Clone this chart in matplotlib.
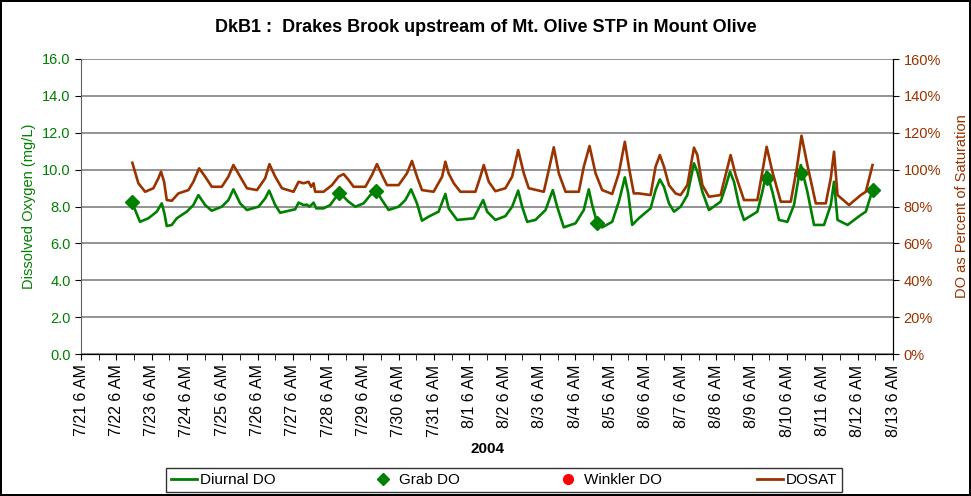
import matplotlib
matplotlib.use("Agg")
import matplotlib.pyplot as plt
import matplotlib.dates as mdates
from matplotlib.ticker import FuncFormatter, MultipleLocator
from matplotlib.lines import Line2D
import pandas as pd

plt.rcParams['font.family'] = ['Liberation Sans', 'DejaVu Sans']

title = "DkB1 :  Drakes Brook upstream of Mt. Olive STP in Mount Olive"
start = "2004-07-21 06:00"
end = "2004-08-13 06:00"

# Diurnal DO: hours after 7/21 6 AM, value mg/L
do_hours = [34.5, 40.1, 45.8, 51.5, 54.9, 56.7, 58.3, 61.7, 65.1, 71.9,
            76.4, 79.8, 84.4, 88.9, 95.7, 100.2, 103.6, 108.2, 112.8, 120.7,
            125.2, 127.9, 132.0, 135.4, 145.6, 147.9, 151.3, 153.6, 155.4, 158.1,
            159.9, 164.9, 169.4, 175.1, 178.5, 181.9, 186.5, 192.1, 196.7, 200.7,
            204.6, 209.1, 215.9, 220.5, 224.4, 228.4, 231.8, 236.3, 243.1, 246.1,
            247.7, 249.9, 255.7, 267.0, 271.0, 273.4, 276.1, 281.7, 288.5, 293.1,
            297.2, 299.9, 303.3, 308.9, 315.8, 320.7, 323.7, 328.2, 336.2, 341.8,
            345.2, 347.5, 350.9, 354.3, 361.1, 365.6, 367.9, 369.7, 372.0, 374.7,
            379.2, 387.2, 390.6, 393.5, 396.3, 399.7, 403.1, 407.6, 412.2, 416.7,
            419.0, 422.4, 426.9, 434.8, 438.2, 441.2, 443.9, 447.3, 450.7, 459.8,
            463.2, 466.1, 470.0, 474.5, 480.2, 484.7, 489.3, 493.8, 498.3, 505.1,
            509.7, 511.9, 514.3, 521.1, 530.1, 533.5, 538.1]
do_vals = [8.26, 7.17, 7.36, 7.72, 8.17, 7.63, 6.94, 7.00, 7.36, 7.72,
           8.08, 8.62, 8.08, 7.77, 7.99, 8.35, 8.93, 8.17, 7.81, 7.99,
           8.44, 8.86, 8.08, 7.66, 7.85, 8.21, 8.08, 8.10, 7.99, 8.21,
           7.90, 7.90, 8.08, 8.71, 8.53, 8.26, 7.99, 8.17, 8.62, 8.86,
           8.35, 7.81, 7.99, 8.35, 8.93, 8.17, 7.23, 7.45, 7.72, 8.35,
           8.68, 7.90, 7.27, 7.36, 7.99, 8.35, 7.72, 7.27, 7.48, 7.99,
           8.86, 7.99, 7.17, 7.27, 7.81, 8.89, 7.99, 6.87, 7.09, 7.81,
           8.93, 8.08, 7.09, 6.87, 7.17, 8.26, 8.99, 9.58, 8.71, 7.00,
           7.36, 7.90, 8.89, 9.47, 9.07, 8.17, 7.72, 7.99, 8.62, 10.34,
           9.89, 8.80, 7.81, 8.26, 9.07, 9.89, 9.34, 8.08, 7.27, 7.72,
           8.80, 9.89, 8.80, 7.27, 7.17, 8.08, 10.25, 8.80, 7.00, 7.00,
           8.08, 9.34, 7.27, 7.00, 7.54, 7.72, 8.89]

# Grab DO samples
grab_hours = [34.5, 175.1, 200.7, 350.9, 466.1, 489.3, 538.1]
grab_vals = [8.26, 8.71, 8.86, 7.09, 9.56, 9.80, 8.89]

# Winkler DO (none)
winkler_hours = []
winkler_vals = []

# DOSAT: hours after 7/21 6 AM, percent saturation
sat_hours = [34.9, 39.0, 43.6, 49.2, 52.6, 54.4, 56.5, 58.3, 61.7, 66.2,
             73.0, 76.4, 80.3, 84.4, 88.9, 95.7, 100.2, 103.6, 108.2, 112.8,
             119.6, 125.2, 128.1, 132.0, 136.6, 144.5, 147.9, 151.3, 154.7, 156.5,
             158.1, 159.2, 164.9, 170.6, 175.1, 178.5, 181.9, 185.3, 193.3, 197.8,
             201.2, 204.6, 208.0, 215.9, 221.6, 225.0, 228.4, 231.8, 239.7, 245.5,
             247.7, 249.9, 253.4, 257.9, 268.1, 271.5, 273.8, 277.2, 281.7, 288.5,
             293.1, 297.2, 301.0, 304.4, 314.6, 318.0, 321.4, 324.8, 329.4, 338.4,
             341.8, 345.7, 349.8, 354.3, 361.1, 365.6, 369.7, 372.4, 375.8, 379.2,
             387.2, 390.6, 393.5, 396.3, 399.7, 404.2, 407.6, 412.2, 416.7, 419.0,
             422.4, 426.9, 434.8, 438.2, 441.6, 445.0, 450.7, 459.8, 463.2, 466.1,
             470.0, 475.7, 482.5, 486.6, 489.8, 493.8, 499.5, 506.3, 509.7, 511.9,
             514.3, 522.1, 530.1, 533.5, 538.1]
sat_vals = [103.7, 92.6, 88.0, 89.9, 95.3, 98.9, 93.4, 83.5, 83.1, 87.1,
            88.9, 93.4, 100.7, 96.2, 90.7, 90.7, 96.2, 102.5, 96.2, 89.9,
            88.9, 95.3, 103.0, 96.2, 89.9, 88.0, 93.4, 92.6, 93.4, 90.7,
            92.6, 88.0, 88.0, 91.6, 96.2, 97.6, 94.4, 90.7, 90.7, 97.1,
            103.0, 97.1, 91.6, 91.6, 98.0, 104.7, 96.2, 88.9, 88.0, 96.2,
            104.3, 98.0, 92.6, 88.0, 88.0, 96.2, 102.5, 93.4, 88.3, 89.9,
            96.2, 110.6, 98.0, 89.9, 88.0, 99.8, 112.1, 98.0, 88.0, 88.0,
            101.6, 112.8, 98.0, 88.9, 86.8, 98.0, 115.1, 101.6, 87.1, 87.1,
            86.2, 101.6, 107.9, 101.6, 91.6, 87.1, 86.2, 91.6, 111.9, 107.9,
            91.6, 85.3, 86.2, 97.1, 107.9, 97.1, 83.5, 83.5, 98.9, 112.4,
            98.9, 82.6, 82.6, 100.7, 118.4, 102.5, 81.7, 81.7, 95.3, 109.7,
            86.2, 80.8, 86.2, 88.0, 102.5]

t0 = pd.Timestamp(start)
do_t = t0 + pd.to_timedelta(do_hours, unit="h")
grab_t = t0 + pd.to_timedelta(grab_hours, unit="h")
sat_t = t0 + pd.to_timedelta(sat_hours, unit="h")

GREEN = "#008000"
BROWN = "#993300"

fig = plt.figure(figsize=(9.71, 4.96), dpi=100)
fig.patch.set_edgecolor("black")
fig.patch.set_linewidth(1.5)
ax = fig.add_axes([81/971, 1-354/496, (893-81)/971, (354-59)/496])
ax2 = ax.twinx()

ax.plot(do_t, do_vals, color=GREEN, lw=1.9, zorder=3, solid_joinstyle="round")
ax.plot(grab_t, grab_vals, linestyle="none", marker="D", ms=7, color=GREEN, zorder=4)
ax.plot(winkler_hours, winkler_vals, linestyle="none", marker="o", color="red")
ax2.plot(sat_t, sat_vals, color=BROWN, lw=1.9, solid_joinstyle="round")

ax.set_ylim(0, 16)
ax2.set_ylim(0, 160)
ax.set_xlim(pd.Timestamp(start), pd.Timestamp(end))
ax.yaxis.set_major_locator(MultipleLocator(2))
ax2.yaxis.set_major_locator(MultipleLocator(20))
ax.yaxis.set_major_formatter(FuncFormatter(lambda v, p: f"{v:.1f}"))
ax2.yaxis.set_major_formatter(FuncFormatter(lambda v, p: f"{v:.0f}%"))
ax.grid(axis="y", color="#777777", lw=1.1)
ax.set_axisbelow(True)

ax.xaxis.set_major_locator(mdates.HourLocator(byhour=[6]))
ax.xaxis.set_minor_locator(mdates.HourLocator(byhour=[18]))


def fmt(x, p):
    d = mdates.num2date(x)
    h = d.hour % 12
    h = 12 if h == 0 else h
    return f"{d.month}/{d.day} {h} {'AM' if d.hour < 12 else 'PM'}"


ax.xaxis.set_major_formatter(FuncFormatter(fmt))
ax.tick_params(axis="x", which="major", labelrotation=90, labelsize=11.5, length=4, direction="out")
ax.tick_params(axis="x", which="minor", length=4, direction="out")
ax.tick_params(axis="y", labelsize=10.5, labelcolor=GREEN, color="black", length=4)
ax2.tick_params(axis="y", labelsize=10.5, labelcolor=BROWN, color="black", length=4)

ax.spines["top"].set_visible(False)
ax2.spines["top"].set_visible(False)
ax.spines["left"].set_color("#606060")
ax2.spines["left"].set_visible(False)

ax.set_ylabel("Dissolved Oxygen (mg/L)", color=GREEN, fontsize=10.5, labelpad=4)
ax2.set_ylabel("DO as Percent of Saturation", color=BROWN, fontsize=10.5, labelpad=10)
ax.set_xlabel("2004", fontsize=11, fontweight="bold", labelpad=4)
fig.text(0.5, 1-28/496, title, ha="center", va="center", fontsize=13, fontweight="bold")

handles = [Line2D([], [], color=GREEN, lw=2),
           Line2D([], [], color=GREEN, marker="D", ls="none", ms=6),
           Line2D([], [], color="red", marker="o", ls="none", ms=7),
           Line2D([], [], color=BROWN, lw=2)]
labels = ["Diurnal DO", "Grab DO", "Winkler DO", "DOSAT"]
leg = fig.legend(handles, labels, loc="center", bbox_to_anchor=(504/971, 1-480/496), ncol=4,
                 frameon=True, fancybox=False, edgecolor="black", fontsize=11,
                 columnspacing=6.2, handlelength=1.7, handletextpad=0.2, borderpad=0.3)
leg.get_frame().set_linewidth(1)

fig.savefig("out.png", dpi=100)
